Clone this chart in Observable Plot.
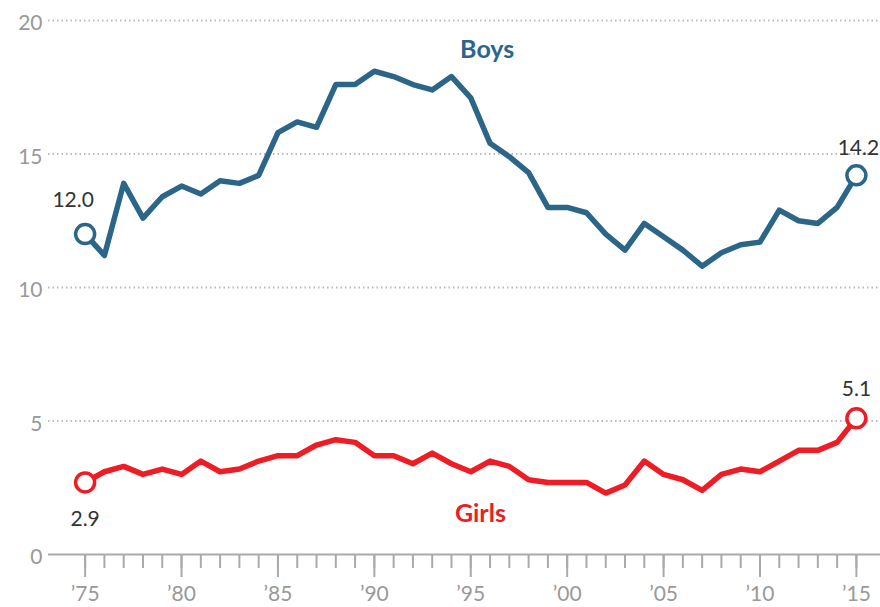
<!DOCTYPE html>
<html>
<head>
<meta charset="utf-8">
<script src="https://cdn.jsdelivr.net/npm/d3@7"></script>
<script src="https://cdn.jsdelivr.net/npm/@observablehq/plot@0.6"></script>
<style>
  html, body { margin: 0; padding: 0; background: #fff; }
  #chart svg { display: block; }
</style>
</head>
<body>
<div id="chart"></div>
<script>
const years = [1975,1976,1977,1978,1979,1980,1981,1982,1983,1984,1985,1986,1987,1988,1989,1990,1991,1992,1993,1994,1995,1996,1997,1998,1999,2000,2001,2002,2003,2004,2005,2006,2007,2008,2009,2010,2011,2012,2013,2014,2015];
const boys = [12.0,11.2,13.9,12.6,13.4,13.8,13.5,14.0,13.9,14.2,15.8,16.2,16.0,17.6,17.6,18.1,17.9,17.6,17.4,17.9,17.1,15.4,14.9,14.3,13.0,13.0,12.8,12.0,11.4,12.4,11.9,11.4,10.8,11.3,11.6,11.7,12.9,12.5,12.4,13.0,14.2];
const girls = [2.7,3.1,3.3,3.0,3.2,3.0,3.5,3.1,3.2,3.5,3.7,3.7,4.1,4.3,4.2,3.7,3.7,3.4,3.8,3.4,3.1,3.5,3.3,2.8,2.7,2.7,2.7,2.3,2.6,3.5,3.0,2.8,2.4,3.0,3.2,3.1,3.5,3.9,3.9,4.2,5.1];
const yTicks = [0, 5, 10, 15, 20];
const xMajorTicks = [1975,1980,1985,1990,1995,2000,2005,2010,2015];
const seriesNames = ["Boys", "Girls"];
const endLabels = ["12.0", "14.2", "2.9", "5.1"];

const boyColor = "#2b6689";
const girlColor = "#ee1c24";
const font = "Lato, 'Open Sans', sans-serif";

const boysData = years.map((y, i) => ({year: y, value: boys[i]}));
const girlsData = years.map((y, i) => ({year: y, value: girls[i]}));
const last = years.length - 1;
const endPoints = [
  {year: years[0], value: boys[0], text: endLabels[0], dx: -12, dy: -34, color: boyColor},
  {year: years[last], value: boys[last], text: endLabels[1], dx: 2, dy: -27, color: boyColor},
  {year: years[0], value: girls[0], text: endLabels[2], dx: 0, dy: 37, color: girlColor},
  {year: years[last], value: girls[last], text: endLabels[3], dx: 0, dy: -29, color: girlColor}
];
const seriesLabels = [
  {year: 1995.85, value: 18.9, text: seriesNames[0], color: boyColor},
  {year: 1995.5, value: 1.5, text: seriesNames[1], color: girlColor}
];

const chart = Plot.plot({
  width: 880,
  height: 607,
  marginLeft: 48,
  marginRight: 0,
  marginTop: 20,
  marginBottom: 53,
  style: {fontFamily: font, background: "#fff"},
  x: {domain: [1973.1, 2016.25]},
  y: {domain: [0, 20]},
  marks: [
    Plot.ruleY(yTicks.filter(d => d > 0), {stroke: "#bbb", strokeWidth: 2, strokeDasharray: "1.5,3"}),
    Plot.ruleY([0], {stroke: "#aaa", strokeWidth: 2}),
    Plot.axisY(yTicks, {tickSize: 0, tickPadding: 6, fontSize: 21, fill: "#999", fontWeight: 400, dy: 3, label: null}),
    Plot.axisX(years, {tickSize: 14, stroke: "#aaa", strokeWidth: 2, text: null, label: null}),
    Plot.axisX(xMajorTicks, {tickSize: 23, stroke: "#aaa", strokeWidth: 2, tickPadding: 9, fontSize: 21, fill: "#999", fontWeight: 400, label: null,
      tickFormat: d => "\u2019" + String(d).slice(2)}),
    Plot.line(boysData, {x: "year", y: "value", stroke: boyColor, strokeWidth: 5.5, strokeLinejoin: "round", strokeLinecap: "round"}),
    Plot.line(girlsData, {x: "year", y: "value", stroke: girlColor, strokeWidth: 5.5, strokeLinejoin: "round", strokeLinecap: "round"}),
    Plot.dot(endPoints, {x: "year", y: "value", r: 9.5, fill: "#fff", stroke: "color", strokeWidth: 3.5}),
    Plot.text(endPoints, {x: "year", y: "value", text: "text", fontSize: 21, fill: "#333", fontWeight: 400}),
    Plot.text(seriesLabels, {x: "year", y: "value", text: "text", fill: "color", fontSize: 25, fontWeight: "bold"})
  ]
});
document.getElementById("chart").append(chart);

// apply per-label offsets to the end-value labels
const textGroups = chart.querySelectorAll("g[aria-label='text']");
const endGroup = textGroups[0];
endGroup.querySelectorAll("text").forEach((t, i) => {
  const p = endPoints[i];
  t.setAttribute("transform", (t.getAttribute("transform") || "") + ` translate(${p.dx},${p.dy})`);
});
</script>
</body>
</html>
